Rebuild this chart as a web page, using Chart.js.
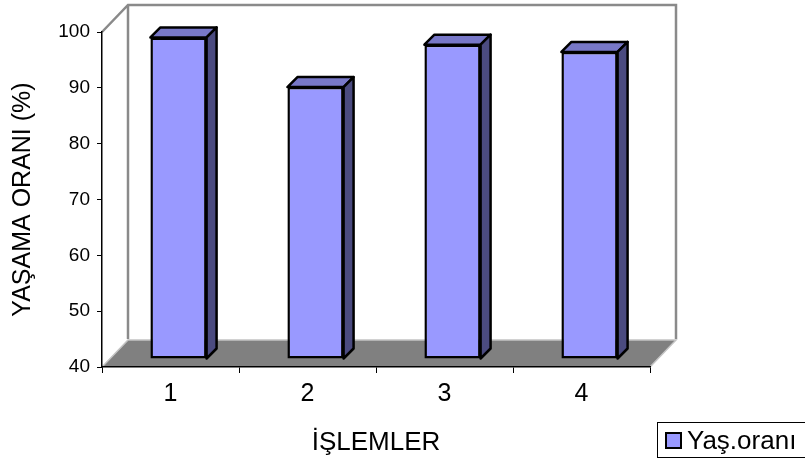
<!DOCTYPE html>
<html><head><meta charset="utf-8">
<script src="https://cdn.jsdelivr.net/npm/chart.js@4/dist/chart.umd.min.js"></script>
<style>html,body{margin:0;padding:0;background:#fff}canvas{display:block}</style>
</head><body>
<canvas id="c" width="805" height="461"></canvas>
<script>
// Survival rate per treatment
const categories = ['1', '2', '3', '4'];
const survivalRate = [97.6, 88.7, 96.3, 95.0];
const yTicks = [40, 50, 60, 70, 80, 90, 100];
const seriesLabel = 'Yaş.oranı';
const xTitle = 'İŞLEMLER';
const yTitle = 'YAŞAMA ORANI (%)';

const FONT = "'Liberation Sans', Arial, Helvetica, sans-serif";
const FRONT = '#9999FF', TOP = '#7878C8', SIDE = '#4B4B80';
const DEPTH = {dx: 26, dy: -27};      // depth of the box (walls + floor)
const BAR_SHIFT = {dx: 8, dy: -8};    // bars stand inside the box
const BAR_DEPTH = {dx: 10, dy: -10};  // thickness of each bar
const EDGE = 2.5;                     // outline width of the bars

const box3d = {
  id: 'box3d',
  beforeDraw(chart) {
    const {ctx, chartArea: a} = chart;
    const L = a.left, R = a.right, T = a.top, B = a.bottom;
    const dx = DEPTH.dx, dy = DEPTH.dy;
    ctx.save();
    // floor
    ctx.fillStyle = '#808080';
    ctx.beginPath();
    ctx.moveTo(L, B); ctx.lineTo(L + dx, B + dy); ctx.lineTo(R + dx, B + dy); ctx.lineTo(R, B);
    ctx.closePath(); ctx.fill();
    ctx.strokeStyle = '#c4c4c4'; ctx.lineWidth = 1.5;
    ctx.beginPath();
    ctx.moveTo(L, B); ctx.lineTo(L + dx, B + dy); ctx.lineTo(R + dx, B + dy); ctx.lineTo(R, B);
    ctx.stroke();
    // walls
    ctx.strokeStyle = '#8a8a8a'; ctx.lineWidth = 2.5; ctx.lineJoin = 'miter';
    ctx.beginPath();
    ctx.moveTo(L, T); ctx.lineTo(L + dx, T + dy); ctx.lineTo(R + dx, T + dy); ctx.lineTo(R + dx, B + dy - 1);
    ctx.moveTo(L + dx, T + dy); ctx.lineTo(L + dx, B + dy - 1);
    ctx.stroke();
    ctx.restore();
  },
  beforeDatasetsDraw(chart) {
    chart.ctx.save();
    chart.ctx.translate(BAR_SHIFT.dx, BAR_SHIFT.dy);
  },
  afterDatasetsDraw(chart) {
    const ctx = chart.ctx;
    const bx = BAR_DEPTH.dx, by = BAR_DEPTH.dy;
    chart.getDatasetMeta(0).data.forEach(bar => {
      const {x, y, base, width} = bar.getProps(['x', 'y', 'base', 'width'], true);
      const l = x - width / 2, r = x + width / 2;
      ctx.lineWidth = EDGE; ctx.strokeStyle = '#000'; ctx.lineJoin = 'round';
      // top face
      ctx.fillStyle = TOP;
      ctx.beginPath();
      ctx.moveTo(l, y); ctx.lineTo(l + bx, y + by); ctx.lineTo(r + bx, y + by); ctx.lineTo(r, y);
      ctx.closePath(); ctx.fill(); ctx.stroke();
      // side face
      ctx.fillStyle = SIDE;
      ctx.beginPath();
      ctx.moveTo(r, y); ctx.lineTo(r + bx, y + by); ctx.lineTo(r + bx, base + by); ctx.lineTo(r, base);
      ctx.closePath(); ctx.fill(); ctx.stroke();
    });
    ctx.restore();
  },
  afterDraw(chart) {
    // legend box
    const ctx = chart.ctx;
    ctx.save();
    ctx.strokeStyle = '#000'; ctx.lineWidth = 1;
    ctx.fillStyle = '#fff';
    ctx.fillRect(657.5, 422.5, 150, 35);
    ctx.strokeRect(657.5, 422.5, 150, 35);
    ctx.fillStyle = FRONT; ctx.lineWidth = 2;
    ctx.fillRect(666, 433, 15, 15);
    ctx.strokeRect(666, 433, 15, 15);
    ctx.fillStyle = '#000';
    ctx.font = '26px ' + FONT;
    ctx.textBaseline = 'alphabetic'; ctx.textAlign = 'left';
    ctx.fillText(chart.data.datasets[0].label, 687, 449);
    ctx.restore();
  }
};

new Chart(document.getElementById('c'), {
  type: 'bar',
  data: {
    labels: categories,
    datasets: [{
      label: seriesLabel,
      data: survivalRate,
      base: yTicks[0],
      backgroundColor: FRONT,
      borderColor: '#000',
      borderWidth: EDGE,
      borderSkipped: false,
      categoryPercentage: 1,
      barPercentage: 0.41,
      clip: false
    }]
  },
  options: {
    responsive: false,
    animation: false,
    events: [],
    layout: {padding: {left: 0, top: 32, right: 155, bottom: 0}},
    plugins: {legend: {display: false}, tooltip: {enabled: false}},
    scales: {
      x: {
        type: 'category',
        offset: true,
        grid: {offset: true, drawOnChartArea: false, drawTicks: true, tickLength: 6, color: '#000', lineWidth: 1},
        border: {display: true, color: '#000', width: 1.5},
        ticks: {color: '#000', font: {family: FONT, size: 25}, padding: 6, maxRotation: 0},
        title: {display: true, text: xTitle, color: '#000', font: {family: FONT, size: 26}, padding: {top: 0, bottom: 3}},
        afterFit(s) { s.height = 94; }
      },
      y: {
        min: 40, max: 100,
        afterBuildTicks(s) { s.ticks = yTicks.map(v => ({value: v})); },
        grid: {drawOnChartArea: false, drawTicks: true, tickLength: 5, color: '#000', lineWidth: 1},
        border: {display: true, color: '#000', width: 1.5},
        ticks: {color: '#000', font: {family: FONT, size: 19}, padding: 7},
        title: {display: true, text: yTitle, color: '#000', font: {family: FONT, size: 25}, padding: {top: 8, bottom: 0}},
        afterFit(s) { s.width = 102; }
      }
    }
  },
  plugins: [box3d]
});
</script>
</body></html>
